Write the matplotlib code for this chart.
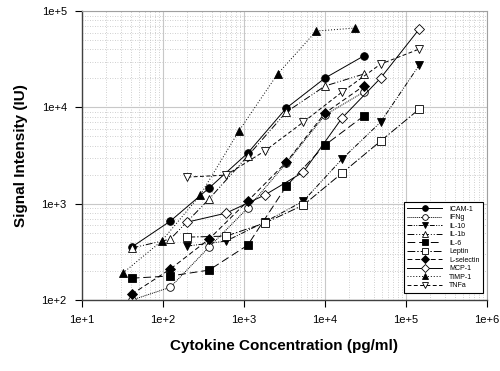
import matplotlib
matplotlib.use("Agg")
import matplotlib.pyplot as plt
from matplotlib.ticker import LogLocator, FuncFormatter
import numpy as np

plt.rcParams['font.family'] = ['Liberation Sans', 'DejaVu Sans']

# concentrations (pg/ml)
conc_a = [41, 123, 370, 1111, 3333, 10000, 30000]
conc_b = [200, 600, 1800, 5400, 16200, 48600, 145800]
conc_c = [32, 96, 288, 864, 2592, 7776, 23328]

icam1 = [355, 661, 1455, 3360, 9860, 20200, 34200]
ifng = [100, 136, 355, 903, 2650, 8340, 14450]
il10 = [364, 410, 646, 1067, 2910, 7050, 27560]
il1b = [347, 430, 1120, 3130, 8960, 16700, 22200]
il6 = [169, 178, 205, 372, 1527, 4070, 8140]
leptin = [451, 462, 631, 969, 2080, 4480, 9620]
lselectin = [115, 210, 430, 1067, 2710, 8750, 16700]
mcp1 = [646, 800, 1231, 2135, 7760, 20200, 65200]
timp1 = [191, 410, 1231, 5690, 22200, 62100, 66700]
tnfa = [1893, 1987, 3530, 7050, 14450, 28200, 40400]

series = [
    ("ICAM-1", conc_a, icam1, '-', 'o', 'black'),
    ("IFNg", conc_a, ifng, (0, (1, 1)), 'o', 'white'),
    ("IL-10", conc_b, il10, (0, (5, 1.5, 1, 1.5, 1, 1.5)), 'v', 'black'),
    ("IL-1b", conc_a, il1b, (0, (7, 2, 1, 2, 1, 2)), '^', 'white'),
    ("IL-6", conc_a, il6, (0, (8, 4)), 's', 'black'),
    ("Leptin", conc_b, leptin, (0, (8, 2, 1.5, 2)), 's', 'white'),
    ("L-selectin", conc_a, lselectin, (0, (5, 3)), 'D', 'black'),
    ("MCP-1", conc_b, mcp1, '-', 'D', 'white'),
    ("TIMP-1", conc_c, timp1, (0, (1, 2)), '^', 'black'),
    ("TNFa", conc_b, tnfa, (0, (4, 2.5)), 'v', 'white'),
]

fig = plt.figure(figsize=(5, 3.71), dpi=100)
ax = fig.add_axes([0.164, 0.191, 0.81, 0.779])

for name, x, y, ls, mk, fc in series:
    ms = 5.5 if mk != 'D' else 5
    ax.plot(x, y, linestyle=ls, color='black', linewidth=0.7, marker=mk,
            markersize=ms, markerfacecolor=fc, markeredgecolor='black',
            markeredgewidth=0.6, label=name)

ax.set_xscale('log')
ax.set_yscale('log')
ax.set_xlim(10, 1e6)
ax.set_ylim(100, 1e5)

fmt = FuncFormatter(lambda v, p: "1e+%d" % round(np.log10(v)))
ax.xaxis.set_major_locator(LogLocator(base=10, numticks=10))
ax.yaxis.set_major_locator(LogLocator(base=10, numticks=10))
ax.xaxis.set_major_formatter(fmt)
ax.yaxis.set_major_formatter(fmt)
ax.xaxis.set_minor_locator(LogLocator(base=10, subs=np.arange(2, 10), numticks=20))
ax.yaxis.set_minor_locator(LogLocator(base=10, subs=np.arange(2, 10), numticks=20))

ax.grid(which='major', color='#c8c8c8', linewidth=0.8, linestyle='-')
ax.grid(which='minor', color='#c0c0c0', linewidth=0.6, linestyle=(0, (1, 2)))
ax.set_axisbelow(True)

ax.tick_params(which='major', direction='out', length=5, width=0.8, labelsize=8, pad=6)
ax.tick_params(which='minor', length=0)
ax.tick_params(axis='x', which='major', bottom=True, top=False)
ax.tick_params(axis='y', which='major', left=True, right=False)

for s in ['top', 'right']:
    ax.spines[s].set_color('#a0a0a0')
    ax.spines[s].set_linewidth(0.8)
for s in ['left', 'bottom']:
    ax.spines[s].set_color('#404040')
    ax.spines[s].set_linewidth(1.0)

ax.set_xlabel("Cytokine Concentration (pg/ml)", fontsize=11, fontweight='bold', labelpad=10)
ax.set_ylabel("Signal Intensity (IU)", fontsize=11, fontweight='bold', labelpad=10)

leg = ax.legend(loc='lower right', bbox_to_anchor=(0.99, 0.025), fontsize=5,
                frameon=True, fancybox=False, edgecolor='black', handlelength=5.0,
                handletextpad=1.0, labelspacing=0.22, borderpad=0.5,
                borderaxespad=0.0, framealpha=1, markerscale=0.75)
leg.get_frame().set_linewidth(0.8)

fig.savefig("out.png", dpi=100)
